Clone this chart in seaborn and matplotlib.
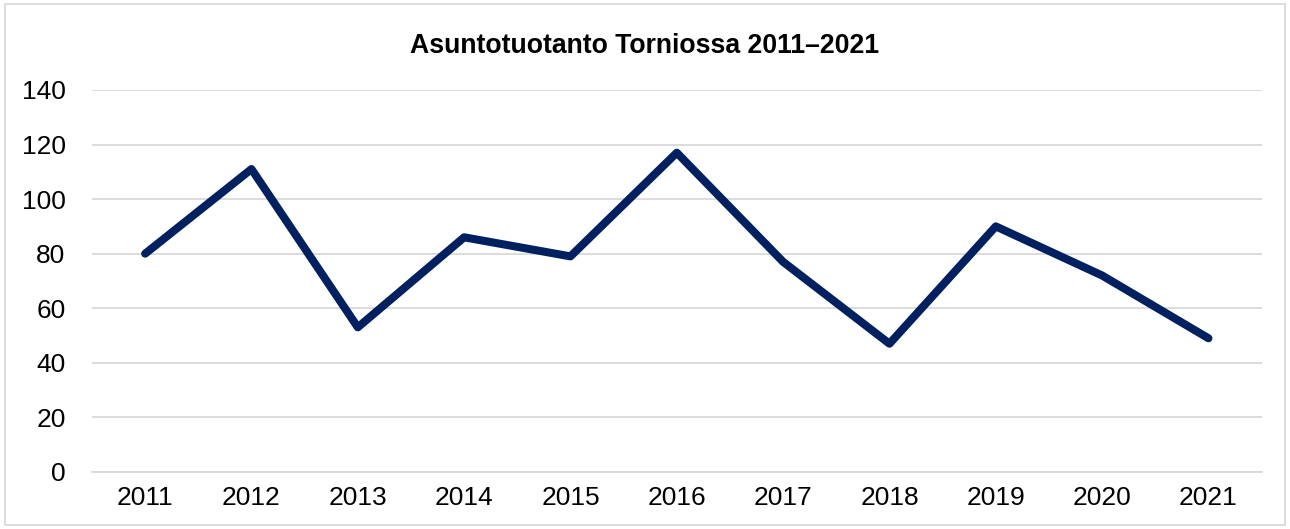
import matplotlib
matplotlib.use("Agg")
import matplotlib.pyplot as plt
import seaborn as sns
import pandas as pd
from matplotlib.patches import Rectangle

# data
years = [2011, 2012, 2013, 2014, 2015, 2016, 2017, 2018, 2019, 2020, 2021]
dwellings = [80, 111, 53, 86, 79, 117, 77, 47, 90, 72, 49]
yticks = [0, 20, 40, 60, 80, 100, 120, 140]

sns.set_style("white")
plt.rcParams['font.family'] = ['Liberation Sans', 'DejaVu Sans']

df = pd.DataFrame({'year': years, 'value': dwellings})

fig = plt.figure(figsize=(12.9, 5.29), dpi=100)
ax = fig.add_axes([0.0713, 0.1078, 0.9067, 0.7222])

sns.lineplot(data=df, x='year', y='value', ax=ax, color='#002060',
             linewidth=5.8, solid_capstyle='round', solid_joinstyle='round')

ax.set_xlim(years[0] - 0.5, years[-1] + 0.5)
ax.set_ylim(0, 140)
ax.set_yticks(yticks)
ax.set_xticks(years)
ax.set_xticklabels([str(y) for y in years])
ax.yaxis.grid(True, color='#d9d9d9', linewidth=1.3)
ax.set_axisbelow(True)
for s in ['left', 'right', 'top']:
    ax.spines[s].set_visible(False)
ax.spines['bottom'].set_color('#d9d9d9')
ax.spines['bottom'].set_linewidth(1.3)
ax.tick_params(axis='both', length=0, labelsize=19, colors='black')
ax.tick_params(axis='y', pad=19)
ax.tick_params(axis='x', pad=10)
ax.set_xlabel('')
ax.set_ylabel('')

fig.text(0.5, 0.913, 'Asuntotuotanto Torniossa 2011\u20132021',
         ha='center', va='center', fontsize=19.2, fontweight='bold', color='black')

# chart border
fig.patches.append(Rectangle((0.004, 0.008), 0.992, 0.984, transform=fig.transFigure,
                             fill=False, edgecolor='#d9d9d9', linewidth=1.3))

fig.savefig('out.png', dpi=100)
